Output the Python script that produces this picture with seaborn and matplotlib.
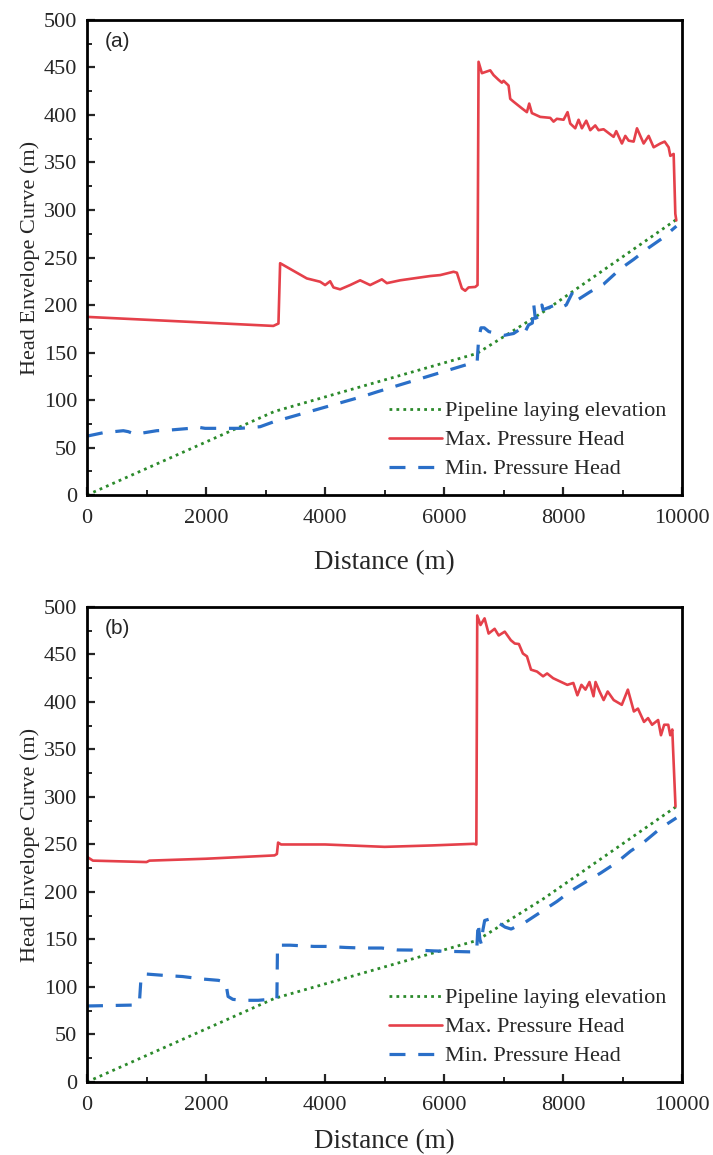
import numpy as np
import pandas as pd
import matplotlib
matplotlib.use("Agg")
import matplotlib.pyplot as plt
import seaborn as sns

# ---------------- data ----------------
# pipeline laying elevation (same pipeline in both panels)
elev_x = [0, 3150, 6550, 7670, 9900]
elev_y = [0, 88, 149, 193, 290]

# panel (a)
a_max_x = [0, 3130, 3216, 3244, 3692, 3916, 4000, 4084, 4140, 4252, 4420, 4588, 4756, 4953,
           5037, 5148, 5260, 5484, 5765, 5933, 6157, 6213, 6297, 6353, 6409, 6521, 6560, 6577,
           6633, 6773, 6829, 6913, 6969, 6997, 7081, 7109, 7165, 7305, 7389, 7428, 7473, 7613,
           7781, 7837, 7893, 8005, 8072, 8117, 8201, 8257, 8313, 8386, 8453, 8537, 8593, 8677,
           8761, 8845, 8890, 8985, 9042, 9098, 9182, 9238, 9350, 9434, 9518, 9630, 9703, 9770,
           9798, 9854, 9882, 9899]
a_max_y = [187.5, 178, 180.5, 244, 228, 224.5, 221, 225, 218.5, 216.5, 221, 226, 221, 227,
           223, 224.5, 226, 228, 230.5, 231.5, 235, 234, 217.5, 215, 218.5, 219, 221, 456,
           444, 447, 442, 437, 434, 436, 431, 417, 414, 407, 403, 412, 402, 398,
           397, 393, 396, 395, 403, 391, 386, 395, 386, 394, 384, 389, 384, 385,
           381, 377, 383, 370, 378, 373, 372, 386, 370, 378, 366, 370, 372, 366,
           357, 359, 296, 289]

a_min_x = [0, 274, 610, 694, 807, 1171, 1395, 1731, 1815, 1983, 2319, 2571, 2908, 3132,
           3468, 3748, 4028, 4308, 4644, 4868, 5205, 6554, 6577, 6617, 6673, 6750, 6886, 7000,
           7165, 7333, 7361, 7417, 7480, 7505, 7530, 7600, 7641, 7660, 7781, 7866, 7950, 8050,
           8145, 8200, 8230, 8454, 8678, 8958, 9182, 9429, 9658, 9900]
a_min_y = [62, 65.6, 67.7, 66.7, 64, 67.7, 68.4, 70.2, 71.9, 70.2, 70.2, 70.2, 71.9, 77,
           83, 88, 93, 98, 104, 108.5, 115, 140.6, 163, 176, 176, 172, 170, 168,
           170, 177, 172, 179, 181, 200, 186, 188, 200, 195, 198, 200, 197, 200,
           212, 203, 205, 214, 222, 238, 248, 260, 270, 283]

# panel (b)
b_max_x = [0, 100, 1000, 1050, 2000, 3150, 3190, 3210, 3260, 4000, 5000, 5800, 6500, 6540,
           6555, 6610, 6678, 6746, 6847, 6915, 7017, 7119, 7186, 7254, 7322, 7390, 7458, 7559,
           7661, 7729, 7830, 7966, 8068, 8169, 8237, 8305, 8373, 8440, 8508, 8542, 8610, 8678,
           8746, 8847, 8983, 9085, 9186, 9254, 9356, 9424, 9492, 9593, 9641, 9695, 9763, 9797,
           9831, 9844, 9885]
b_max_y = [237, 233, 231.5, 233, 235, 238.5, 240, 252, 250, 250, 247.5, 249, 250.7, 250,
           491, 481, 488, 472, 477, 470, 474, 465, 461.5, 461, 451, 448, 434, 432,
           427, 430, 425, 421, 418, 420, 407, 418, 413, 421, 406, 421, 411, 402,
           411, 402, 397, 413, 390, 393, 379, 383, 376, 381, 365, 376, 376, 365,
           371, 351, 290]

b_min_x = [0, 800, 880, 910, 1003, 1338, 1605, 1940, 2207, 2330, 2370, 2450, 2609, 2876,
           3150, 3190, 3200, 3411, 3813, 4013, 4348, 4615, 4950, 5217, 5552, 5819, 6154, 6421,
           6545, 6570, 6600, 6625, 6650, 6680, 6789, 6900, 7023, 7124, 7358, 7625, 7893, 8127,
           8361, 8629, 8896, 9130, 9365, 9632, 9900]
b_min_y = [80, 81, 83, 112, 113.6, 112, 111, 108.4, 107, 105, 90, 87, 86, 86,
           87.4, 88, 144, 144, 142.7, 142.7, 141.6, 141, 141, 139, 138.8, 138, 137.4, 137,
           137, 168, 150, 145, 160, 170, 172, 168, 163, 161, 168, 179, 190, 201,
           210, 220, 231, 243, 253, 267, 278]

panel_labels = ["(a)", "(b)"]
series_names = ["Pipeline laying elevation", "Max. Pressure Head", "Min. Pressure Head"]
x_ticks = [0, 2000, 4000, 6000, 8000, 10000]
y_ticks = [0, 50, 100, 150, 200, 250, 300, 350, 400, 450, 500]

# ---------------- style ----------------
sns.set_theme(style="white")
plt.rcParams["font.family"] = ["Liberation Serif", "DejaVu Serif"]

C_GREEN = "#2b8a2b"
C_RED = "#e5404a"
C_BLUE = "#2a6fc8"

fig = plt.figure(figsize=(7.13, 11.55), dpi=100)
ax_a = fig.add_axes([0.122, 0.5714, 0.835, 0.4113])
ax_b = fig.add_axes([0.122, 0.0632, 0.835, 0.4113])

panels = [
    (ax_a, a_max_x, a_max_y, a_min_x, a_min_y, 16),
    (ax_b, b_max_x, b_max_y, b_min_x, b_min_y, 10),
]

for (ax, mx, my, nx, ny, xlpad), plab in zip(panels, panel_labels):
    assert len(mx) == len(my) and len(nx) == len(ny)
    df_e = pd.DataFrame({"x": elev_x, "y": elev_y})
    df_max = pd.DataFrame({"x": mx, "y": my})
    df_min = pd.DataFrame({"x": nx, "y": ny})

    sns.lineplot(data=df_e, x="x", y="y", ax=ax, sort=False, estimator=None,
                 color=C_GREEN, lw=2.0, linestyle=(0, (1, 1.5)), label=series_names[0])
    sns.lineplot(data=df_max, x="x", y="y", ax=ax, sort=False, estimator=None,
                 color=C_RED, lw=1.9, label=series_names[1])
    sns.lineplot(data=df_min, x="x", y="y", ax=ax, sort=False, estimator=None,
                 color=C_BLUE, lw=2.3, linestyle=(0, (5, 4)), label=series_names[2])

    ax.set_xlim(0, 10000)
    ax.set_ylim(0, 500)
    ax.set_xticks(x_ticks)
    ax.set_yticks(y_ticks)
    ax.set_xticks(np.arange(1000, 10000, 2000), minor=True)
    ax.set_yticks(np.arange(25, 500, 50), minor=True)
    ax.tick_params(which="major", direction="in", length=6, width=1.6,
                   labelsize=16, top=False, right=False, left=True, bottom=True)
    ax.tick_params(axis="x", which="major", pad=10)
    ax.tick_params(axis="y", which="major", pad=7)
    ax.tick_params(which="minor", direction="in", length=3.5, width=1.4,
                   top=False, right=False, left=True, bottom=True)
    for sp in ax.spines.values():
        sp.set_linewidth(2.0)
        sp.set_color("black")
        sp.set_visible(True)

    ax.set_xlabel("Distance (m)", fontsize=19.5, labelpad=xlpad)
    ax.set_ylabel("Head Envelope Curve (m)", fontsize=16, labelpad=3)

    ax.text(0.03, 0.975, plab, transform=ax.transAxes, ha="left", va="top",
            fontsize=15, family=["Liberation Sans", "DejaVu Sans"])

    h, l = ax.get_legend_handles_labels()
    ax.legend(h, l, loc="lower right", bbox_to_anchor=(1.0, 0.0), frameon=False,
              fontsize=16, handlelength=2.4, handletextpad=0.15, labelspacing=0.38,
              borderaxespad=0.3)

fig.savefig("out.png", dpi=100, facecolor="white")
